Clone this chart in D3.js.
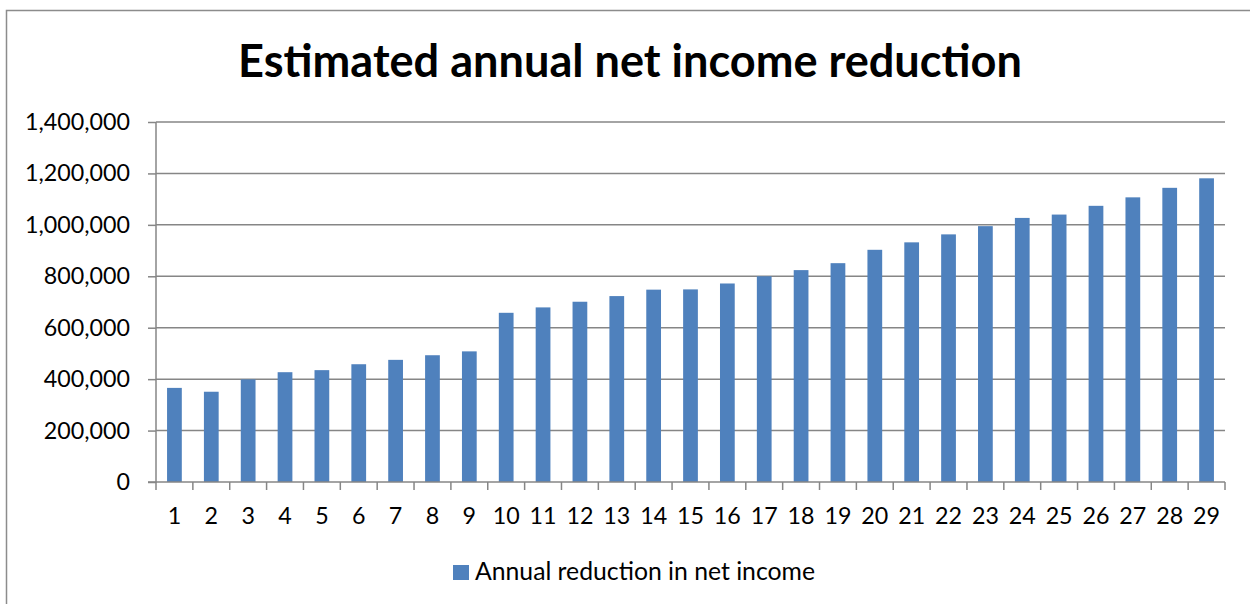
<!DOCTYPE html>
<html><head><meta charset="utf-8">
<script src="https://cdn.jsdelivr.net/npm/d3@7"></script>
<style>body{margin:0;background:#fff}svg{display:block}</style>
</head><body>
<svg id="c" width="1250" height="604"></svg>
<script>
const categories = ["1","2","3","4","5","6","7","8","9","10","11","12","13","14","15","16","17","18","19","20","21","22","23","24","25","26","27","28","29"];
const values = [366000,351000,399000,427000,435000,458000,475000,493000,508000,658000,679000,701000,723000,748000,749000,772000,800000,824000,851000,903000,932000,963000,995000,1027000,1040000,1074000,1107000,1144000,1181000];
const yTicks = [0,200000,400000,600000,800000,1000000,1200000,1400000];
const seriesName = "Annual reduction in net income";
const title = "Estimated annual net income reduction";

const svg = d3.select("#c");
const font = "Lato, 'Open Sans', sans-serif";
const gridColor = "#868686";

function fit(sel, base, target){
  sel.attr("font-size", base);
  const w = sel.node().getComputedTextLength();
  const s = base*target/w;
  sel.attr("font-size", s);
  return s;
}

svg.append("rect").attr("x",6.5).attr("y",10.5).attr("width",1300).attr("height",700)
  .attr("fill","none").attr("stroke","#8c8c8c").attr("stroke-width",1.5);

const L=156, R=1225, T=122, B=482;
const x = d3.scaleBand().domain(categories).range([L,R]).paddingInner(0.6).paddingOuter(0.3);
const y = d3.scaleLinear().domain([0,1400000]).range([B,T]);

// gridlines
svg.append("g").selectAll("line").data(yTicks.filter(d=>d>0)).join("line")
  .attr("x1",L).attr("x2",R).attr("y1",d=>y(d)).attr("y2",d=>y(d))
  .attr("stroke",gridColor).attr("stroke-width",1.5);

// bars
svg.append("g").selectAll("rect").data(values).join("rect")
  .attr("x",(d,i)=>x(categories[i])).attr("width",x.bandwidth())
  .attr("y",d=>y(d)).attr("height",d=>B-y(d)).attr("fill","#4f81bd");

// measure axis font size from widest label
const probe = svg.append("text").attr("font-family",font).text(d3.format(",")(1400000));
const axisSize = fit(probe, 21, 105);
probe.remove();

// y axis
const yAxis = d3.axisLeft(y).tickValues(yTicks).tickSize(8).tickPadding(18)
  .tickFormat(d=>d3.format(",")(d));
const gy = svg.append("g").attr("transform",`translate(${L},0)`).call(yAxis);
gy.select(".domain").attr("stroke",gridColor).attr("stroke-width",1.5).attr("d",`M-8,${B}H0V${T}`);
gy.selectAll(".tick line").attr("stroke",gridColor).attr("stroke-width",1.5);
gy.selectAll(".tick text").attr("font-family",font).attr("font-size",axisSize).attr("fill","#000");

// x axis
const xTickScale = d3.scaleLinear().domain([0,categories.length]).range([L,R]);
const gx = svg.append("g").attr("transform",`translate(0,${B})`);
gx.append("line").attr("x1",L).attr("x2",R).attr("stroke",gridColor).attr("stroke-width",1.5);
gx.selectAll("line.t").data(d3.range(categories.length+1)).join("line").attr("class","t")
  .attr("x1",d=>xTickScale(d)).attr("x2",d=>xTickScale(d)).attr("y1",0).attr("y2",8)
  .attr("stroke",gridColor).attr("stroke-width",1.5);
gx.selectAll("text").data(categories).join("text")
  .attr("x",d=>x(d)+x.bandwidth()/2).attr("y",42)
  .attr("text-anchor","middle").attr("font-family",font).attr("font-size",axisSize).attr("fill","#000").text(d=>d);

// title
const t = svg.append("text").attr("x",630).attr("y",77).attr("text-anchor","middle")
  .attr("font-family",font).attr("font-weight","bold").attr("fill","#000").text(title);
fit(t, 40, 784);

// legend
svg.append("rect").attr("x",453).attr("y",565).attr("width",16).attr("height",15).attr("fill","#4f81bd");
const lt = svg.append("text").attr("x",475).attr("y",580).attr("font-family",font).attr("fill","#000").text(seriesName);
fit(lt, 21, 340);
</script>
</body></html>
